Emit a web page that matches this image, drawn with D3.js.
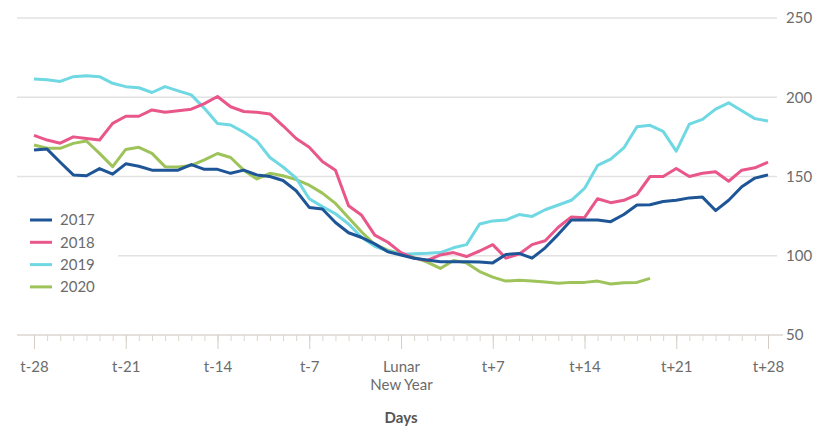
<!DOCTYPE html>
<html>
<head>
<meta charset="utf-8">
<script src="https://cdn.jsdelivr.net/npm/d3@7"></script>
<style>
  html, body { margin: 0; padding: 0; background: #fff; }
  svg { display: block; }
  text { font-family: Lato, "Open Sans", sans-serif; }
</style>
</head>
<body>
<svg id="chart" width="814" height="428"></svg>
<script>
// ---- data ----
const days = d3.range(-28, 29); // t-28 ... t+28
const years = ["2017", "2018", "2019", "2020"];
const yearColors = ["#1d5596", "#e9578a", "#6fd8e3", "#9dc35a"];

const s2017 = [166.7,167.3,159,151,150.5,155,151.5,158,156.5,154,154,154,157.5,154.5,154.5,152,154,151,150,147.5,141,130.5,129.5,121,114.5,111.5,107.5,102.5,
  100.5,
  98.4,97.3,96.2,96.2,96.2,96,95.5,100.8,101.5,98.5,105,113.5,122.6,122.6,122.6,121.5,126,132,132.2,134.2,135,136.5,137,128.5,135,143.5,149,151];
const s2018 = [176,173,171,175,174,173,183.5,188,188,192,190.5,191.5,192.5,196,200.5,194,191,190.5,189.5,182,174,168.5,159.5,154,131.5,125.5,113,108.5,
  102,
  98.5,97,100.5,102,99.5,103,107,98.5,101,107,109.5,118,124.5,124,136,133.5,135,138.5,150,150,155,150,152,153,147,154,155.5,159];
const s2019 = [211.5,211,210,213,213.6,213,208.8,206.7,206,203,206.7,204,201.5,193,183.5,182.5,178,172.5,162,156,149,136,131,126.5,120,111.5,106,103,
  101,
  101.3,101.5,102,105,107,120,122,122.5,126,124.8,129,132,135,142.5,157,161,168,181.4,182.3,178.5,166,183,186,192.5,196.5,191.5,186.5,185];
const s2020 = [169.9,167.8,167.8,170.9,172.4,164.6,156.2,167.1,168.4,164.6,156.2,156,157,160.5,164.5,162,154,148.5,152,150.5,148,144.5,139.5,133,124,115,107,103.5,
  101.3,
  99,96,92,97,95.5,90,86.5,84,84.5,84,83.5,82.6,83.2,83.2,84,82.2,83,83.2,85.7,
  null,null,null,null,null,null,null,null,null];

const majorTicks = [-28, -21, -14, -7, 0, 7, 14, 21, 28];
const majorLabels = ["t-28", "t-21", "t-14", "t-7", "Lunar\nNew Year", "t+7", "t+14", "t+21", "t+28"];
const yTicks = [50, 100, 150, 200, 250];
const xTitle = "Days";

// ---- chart ----
const svg = d3.select("#chart");
const x = d3.scaleLinear().domain([-28, 28]).range([34, 768]);
const y = d3.scaleLinear().domain([50, 250]).range([335, 18]);

const gridLeft = 17, gridRight = 777;

// gridlines
svg.append("g").selectAll("line")
  .data(yTicks.filter(v => v !== 50))
  .join("line")
  .attr("x1", gridLeft).attr("x2", gridRight)
  .attr("y1", d => y(d)).attr("y2", d => y(d))
  .attr("stroke", "#e2e2e2").attr("stroke-width", 1.5);

// y labels
const yAxis = svg.append("g")
  .attr("transform", `translate(${gridRight + 9},0)`)
  .call(d3.axisRight(y).tickValues(yTicks).tickSize(0).tickPadding(0));
yAxis.select(".domain").remove();
yAxis.selectAll("text")
  .attr("font-size", 15).attr("fill", "#6b6b6b")
  .attr("font-family", "Lato, 'Open Sans', sans-serif");

// x axis baseline + ticks
const axisY = y(50);
svg.append("line")
  .attr("x1", gridLeft).attr("x2", 783)
  .attr("y1", axisY).attr("y2", axisY)
  .attr("stroke", "#dcd6cf").attr("stroke-width", 1.5);

const minor = svg.append("g")
  .attr("transform", `translate(0,${axisY})`)
  .call(d3.axisBottom(x).tickValues(days).tickSize(6).tickFormat(""));
minor.select(".domain").remove();
minor.selectAll("line").attr("stroke", "#dcd6cf").attr("stroke-width", 1);

const major = svg.append("g")
  .attr("transform", `translate(0,${axisY})`)
  .call(d3.axisBottom(x).tickValues(majorTicks).tickSize(14).tickPadding(0)
        .tickFormat((d, i) => majorLabels[i]));
major.select(".domain").remove();
major.selectAll("line").attr("stroke", "#d4cec6").attr("stroke-width", 1);
major.selectAll("text").each(function(d, i) {
  const t = d3.select(this);
  const parts = majorLabels[i].split("\n");
  t.text(null)
   .attr("y", 0)
   .attr("dy", null)
   .attr("font-size", 15).attr("fill", "#6b6b6b")
   .attr("font-family", "Lato, 'Open Sans', sans-serif");
  parts.forEach((p, k) => {
    t.append("tspan").attr("x", 0).attr("y", 37 + k * 18).text(p);
  });
});

svg.append("text")
  .attr("x", x(0)).attr("y", 423)
  .attr("text-anchor", "middle")
  .attr("font-size", 15).attr("font-weight", "bold").attr("fill", "#555")
  .text(xTitle);

// lines
const line = d3.line()
  .defined(v => v != null)
  .x((v, i) => x(days[i]))
  .y(v => y(v));

const seriesList = [s2020, s2019, s2018, s2017];
const seriesColors = [yearColors[3], yearColors[2], yearColors[1], yearColors[0]];
svg.append("g").selectAll("path")
  .data(seriesList)
  .join("path")
  .attr("d", d => line(d))
  .attr("fill", "none")
  .attr("stroke", (d, i) => seriesColors[i])
  .attr("stroke-width", 3)
  .attr("stroke-linejoin", "round")
  .attr("stroke-linecap", "butt");

// legend
const lg = svg.append("g");
lg.append("rect").attr("x", 0).attr("y", 205).attr("width", 118).attr("height", 95).attr("fill", "#fff");
const items = lg.selectAll("g.item").data(years).join("g")
  .attr("class", "item")
  .attr("transform", (d, i) => `translate(0,${220 + i * 22.3})`);
items.append("line")
  .attr("x1", 30).attr("x2", 52).attr("y1", 0).attr("y2", 0)
  .attr("stroke", (d, i) => yearColors[i]).attr("stroke-width", 3);
items.append("text")
  .attr("x", 60).attr("y", 0).attr("dy", "0.35em")
  .attr("font-size", 15).attr("fill", "#6b6b6b")
  .text(d => d);
</script>
</body>
</html>
